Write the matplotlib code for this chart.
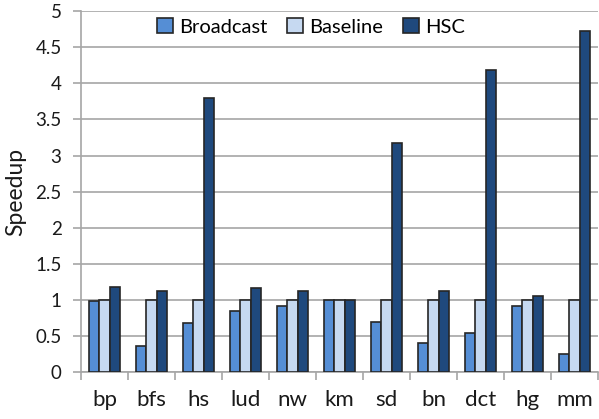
import matplotlib.pyplot as plt
import numpy as np

plt.rcParams['font.family'] = ['Lato', 'DejaVu Sans']

benchmarks = ['bp', 'bfs', 'hs', 'lud', 'nw', 'km', 'sd', 'bn', 'dct', 'hg', 'mm']
broadcast = [0.98, 0.37, 0.68, 0.85, 0.92, 1.00, 0.69, 0.40, 0.54, 0.92, 0.25]
baseline = [1.00, 1.00, 1.00, 1.00, 1.00, 1.00, 1.00, 1.00, 1.00, 1.00, 1.00]
hsc = [1.18, 1.13, 3.79, 1.16, 1.13, 1.00, 3.17, 1.12, 4.18, 1.05, 4.73]

series = [('Broadcast', broadcast, '#558ED5'),
          ('Baseline', baseline, '#C6D9F1'),
          ('HSC', hsc, '#1F497D')]

fig = plt.figure(figsize=(5.99, 4.19), dpi=100)
ax = fig.add_axes([0.1352, 0.1115, 0.8631, 0.8622])

x = np.arange(len(benchmarks))
w = 0.225
for i, (name, vals, col) in enumerate(series):
    ax.bar(x + (i - 1) * w, vals, w, color=col, edgecolor='#262626',
           linewidth=1.2, label=name, zorder=3)

ax.set_xlim(-0.5, len(benchmarks) - 0.5)
ax.set_ylim(0, 5)
ax.set_yticks(np.arange(0, 5.01, 0.5))
ax.set_yticklabels(['0', '0.5', '1', '1.5', '2', '2.5', '3', '3.5', '4', '4.5', '5'])
ax.yaxis.grid(True, color='#A6A6A6', linewidth=1.2, zorder=0)

ax.set_xticks(x)
ax.set_xticklabels(benchmarks)
ax.set_xticks(np.arange(-0.5, len(benchmarks), 1), minor=True)
ax.tick_params(axis='x', which='major', length=0, pad=13, labelsize=16, colors='#1a1a1a')
ax.tick_params(axis='x', which='minor', length=6, width=1.2, color='#A6A6A6')
ax.tick_params(axis='y', length=6, width=1.2, color='#A6A6A6', labelsize=13.5, pad=8,
               labelcolor='#1a1a1a')

for s in ['top', 'right']:
    ax.spines[s].set_visible(False)
for s in ['left', 'bottom']:
    ax.spines[s].set_color('#A6A6A6')
    ax.spines[s].set_linewidth(1.2)

ax.set_ylabel('Speedup', fontsize=16.5, color='#1a1a1a')
ax.yaxis.set_label_coords(-0.106, 0.5)

leg = ax.legend(loc='center', bbox_to_anchor=(0.445, 0.956), ncol=3, frameon=False,
                fontsize=14.5, handlelength=0.8, handleheight=0.8, handletextpad=0.3,
                columnspacing=1.0, borderpad=0.1)

fig.savefig('out.png', dpi=100)
